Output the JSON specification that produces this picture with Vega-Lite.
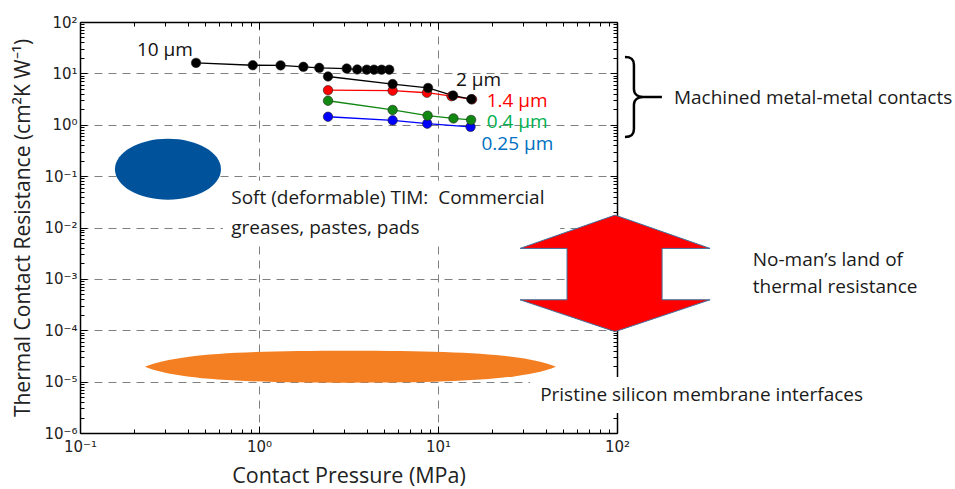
{
  "$schema": "https://vega.github.io/schema/vega-lite/v6.json",
  "width": 537,
  "height": 411,
  "autosize": "none",
  "padding": {"left": 80, "top": 22, "right": 338, "bottom": 56},
  "background": "white",
  "config": {"view": {"stroke": null}},
  "datasets": {
    "pts": [
      {"s": "0.25um", "p": 2.43, "r": 1.43},
      {"s": "0.25um", "p": 5.58, "r": 1.22},
      {"s": "0.25um", "p": 8.71, "r": 1.05},
      {"s": "0.25um", "p": 15.2, "r": 0.91},
      {"s": "0.4um", "p": 2.43, "r": 2.93},
      {"s": "0.4um", "p": 5.58, "r": 1.94},
      {"s": "0.4um", "p": 8.75, "r": 1.5},
      {"s": "0.4um", "p": 12.2, "r": 1.33},
      {"s": "0.4um", "p": 15.3, "r": 1.24},
      {"s": "1.4um", "p": 2.43, "r": 4.7},
      {"s": "1.4um", "p": 5.58, "r": 4.6},
      {"s": "1.4um", "p": 8.67, "r": 4.2},
      {"s": "1.4um", "p": 11.9, "r": 3.6},
      {"s": "1.4um", "p": 15.5, "r": 3.12},
      {"s": "2um", "p": 2.43, "r": 8.7},
      {"s": "2um", "p": 5.58, "r": 6.2},
      {"s": "2um", "p": 8.8, "r": 5.2},
      {"s": "2um", "p": 12.15, "r": 3.7},
      {"s": "2um", "p": 15.35, "r": 3.15},
      {"s": "10um", "p": 0.445, "r": 16.0},
      {"s": "10um", "p": 0.923, "r": 14.4},
      {"s": "10um", "p": 1.32, "r": 14.3},
      {"s": "10um", "p": 1.77, "r": 13.4},
      {"s": "10um", "p": 2.17, "r": 12.8},
      {"s": "10um", "p": 3.09, "r": 12.4},
      {"s": "10um", "p": 3.54, "r": 11.9},
      {"s": "10um", "p": 4.0, "r": 11.8},
      {"s": "10um", "p": 4.39, "r": 11.8},
      {"s": "10um", "p": 4.84, "r": 11.8},
      {"s": "10um", "p": 5.34, "r": 11.8}
    ],
    "boxes": [
      {"p": 0.629, "p2": 48.1, "r": 0.0813, "r2": 0.00503},
      {"p": 32.7, "p2": 2588, "r": 1.23e-5, "r2": 2.44e-6}
    ],
    "serieslabels": [
      {"k": "10um", "label": "10 µm", "p": 0.208, "r": 29.1},
      {"k": "2um", "label": "2 µm", "p": 12.6, "r": 7.34},
      {"k": "1.4um", "label": "1.4 µm", "p": 18.7, "r": 2.86},
      {"k": "0.4um", "label": "0.4 µm", "p": 18.7, "r": 1.11},
      {"k": "0.25um", "label": "0.25 µm", "p": 17.5, "r": 0.428}
    ],
    "notes": [
      {"k": "note", "label": "Soft (deformable) TIM:\u00a0 Commercial", "p": 0.70, "r": 0.0379},
      {"k": "note", "label": "greases, pastes, pads", "p": 0.70, "r": 0.00986},
      {"k": "note", "label": "Machined metal-metal contacts", "p": 208, "r": 3.37},
      {"k": "note", "label": "No-man’s land of", "p": 573, "r": 0.00234},
      {"k": "note", "label": "thermal resistance", "p": 573, "r": 0.000698},
      {"k": "note", "label": "Pristine silicon membrane interfaces", "p": 37.2, "r": 5.48e-6}
    ],
    "blue_region": [{"p": 0.31, "r": 0.136}],
    "orange_region": [{"p": 3.24, "r": 1.95e-5}],
    "arrow": [{"p": 97.5, "r": 0.00128}],
    "brace": [{"p": 139.6, "r": 3.47}]
  },
  "layer": [
    {
      "data": {"name": "boxes"},
      "mark": {"type": "rect", "fill": "white", "stroke": null},
      "encoding": {
        "x": {"field": "p", "type": "quantitative", "scale": {"type": "log", "domain": [0.1, 100]}, "axis": null},
        "x2": {"field": "p2"},
        "y": {"field": "r", "type": "quantitative", "scale": {"type": "log", "domain": [1e-6, 100]}, "axis": null},
        "y2": {"field": "r2"}
      }
    },
    {
      "data": {"name": "pts"},
      "mark": {"type": "line", "strokeWidth": 1.3},
      "encoding": {
        "x": {
          "field": "p", "type": "quantitative",
          "scale": {"type": "log", "domain": [0.1, 100]},
          "axis": {
            "orient": "bottom",
            "values": [0.1, 0.2, 0.3, 0.4, 0.5, 0.6, 0.7, 0.8, 0.9, 1, 2, 3, 4, 5, 6, 7, 8, 9, 10, 20, 30, 40, 50, 60, 70, 80, 90, 100],
            "labelExpr": "abs(log(datum.value)/LN10 - round(log(datum.value)/LN10)) < 0.001 ? '10' + ['⁻⁶','⁻⁵','⁻⁴','⁻³','⁻²','⁻¹','⁰','¹','²'][round(log(datum.value)/LN10)+6] : ''",
            "labelFont": "DejaVu Sans", "labelFontSize": 15, "labelColor": "#222",
            "labelFlush": false, "labelOverlap": false, "labelPadding": 13,
            "tickSize": {"condition": {"test": "abs(log(datum.value)/LN10 - round(log(datum.value)/LN10)) < 0.001", "value": -7}, "value": -4},
            "tickColor": "#000", "tickWidth": 1,
            "grid": true, "gridColor": "#808080", "gridDash": [8, 6], "gridWidth": 1,
            "gridOpacity": {"condition": {"test": "abs(log(datum.value)/LN10 - round(log(datum.value)/LN10)) < 0.001", "value": 1}, "value": 0},
            "domainColor": "#000", "domainWidth": 1.5,
            "title": "Contact Pressure (MPa)", "titleFont": "Open Sans", "titleFontSize": 21.5, "titleFontWeight": "normal", "titleColor": "#222", "titlePadding": 8
          }
        },
        "y": {
          "field": "r", "type": "quantitative",
          "scale": {"type": "log", "domain": [1e-6, 100]},
          "axis": {
            "orient": "left",
            "values": [1e-6, 2e-6, 3e-6, 4e-6, 5e-6, 6e-6, 7e-6, 8e-6, 9e-6, 1e-5, 2e-5, 3e-5, 4e-5, 5e-5, 6e-5, 7e-5, 8e-5, 9e-5, 1e-4, 2e-4, 3e-4, 4e-4, 5e-4, 6e-4, 7e-4, 8e-4, 9e-4, 1e-3, 2e-3, 3e-3, 4e-3, 5e-3, 6e-3, 7e-3, 8e-3, 9e-3, 0.01, 0.02, 0.03, 0.04, 0.05, 0.06, 0.07, 0.08, 0.09, 0.1, 0.2, 0.3, 0.4, 0.5, 0.6, 0.7, 0.8, 0.9, 1, 2, 3, 4, 5, 6, 7, 8, 9, 10, 20, 30, 40, 50, 60, 70, 80, 90, 100],
            "labelExpr": "abs(log(datum.value)/LN10 - round(log(datum.value)/LN10)) < 0.001 ? '10' + ['⁻⁶','⁻⁵','⁻⁴','⁻³','⁻²','⁻¹','⁰','¹','²'][round(log(datum.value)/LN10)+6] : ''",
            "labelFont": "DejaVu Sans", "labelFontSize": 15, "labelColor": "#222",
            "labelFlush": false, "labelOverlap": false, "labelPadding": 10,
            "tickSize": {"condition": {"test": "abs(log(datum.value)/LN10 - round(log(datum.value)/LN10)) < 0.001", "value": -7}, "value": -4},
            "tickColor": "#000", "tickWidth": 1,
            "grid": true, "gridColor": "#808080", "gridDash": [8, 6], "gridWidth": 1,
            "gridOpacity": {"condition": {"test": "abs(log(datum.value)/LN10 - round(log(datum.value)/LN10)) < 0.001", "value": 1}, "value": 0},
            "domainColor": "#000", "domainWidth": 1.5,
            "title": "Thermal Contact Resistance (cm²K W⁻¹)", "titleFont": "Open Sans", "titleFontSize": 21, "titleFontWeight": "normal", "titleColor": "#222", "titlePadding": 10
          }
        },
        "color": {
          "field": "s", "type": "nominal",
          "scale": {"domain": ["10um", "2um", "1.4um", "0.4um", "0.25um"], "range": ["#000000", "#000000", "#ff0000", "#118811", "#0000ff"]},
          "legend": null
        }
      }
    },
    {
      "data": {"name": "pts"},
      "mark": {"type": "point", "filled": true, "size": 90, "opacity": 1, "stroke": "#222", "strokeWidth": 0.6},
      "encoding": {
        "x": {
          "field": "p", "type": "quantitative",
          "axis": {
            "orient": "top",
            "values": [0.1, 0.2, 0.3, 0.4, 0.5, 0.6, 0.7, 0.8, 0.9, 1, 2, 3, 4, 5, 6, 7, 8, 9, 10, 20, 30, 40, 50, 60, 70, 80, 90, 100],
            "labels": false, "grid": false, "title": null,
            "tickSize": {"condition": {"test": "abs(log(datum.value)/LN10 - round(log(datum.value)/LN10)) < 0.001", "value": -7}, "value": -4},
            "tickColor": "#000", "tickWidth": 1, "domainColor": "#000", "domainWidth": 1.5
          }
        },
        "y": {
          "field": "r", "type": "quantitative",
          "axis": {
            "orient": "right",
            "values": [1e-6, 2e-6, 3e-6, 4e-6, 5e-6, 6e-6, 7e-6, 8e-6, 9e-6, 1e-5, 2e-5, 3e-5, 4e-5, 5e-5, 6e-5, 7e-5, 8e-5, 9e-5, 1e-4, 2e-4, 3e-4, 4e-4, 5e-4, 6e-4, 7e-4, 8e-4, 9e-4, 1e-3, 2e-3, 3e-3, 4e-3, 5e-3, 6e-3, 7e-3, 8e-3, 9e-3, 0.01, 0.02, 0.03, 0.04, 0.05, 0.06, 0.07, 0.08, 0.09, 0.1, 0.2, 0.3, 0.4, 0.5, 0.6, 0.7, 0.8, 0.9, 1, 2, 3, 4, 5, 6, 7, 8, 9, 10, 20, 30, 40, 50, 60, 70, 80, 90, 100],
            "labels": false, "grid": false, "title": null,
            "tickSize": {"condition": {"test": "abs(log(datum.value)/LN10 - round(log(datum.value)/LN10)) < 0.001", "value": -7}, "value": -4},
            "tickColor": "#000", "tickWidth": 1, "domainColor": "#000", "domainWidth": 1.5
          }
        },
        "color": {"field": "s", "type": "nominal", "legend": null}
      }
    },
    {
      "data": {"name": "blue_region"},
      "mark": {"type": "point", "filled": true, "opacity": 1, "fill": "#00529b", "strokeWidth": 0, "size": 11236,
        "shape": "M-1,0C-1,-0.318,-0.552,-0.575,0,-0.575C0.552,-0.575,1,-0.318,1,0C1,0.318,0.552,0.575,0,0.575C-0.552,0.575,-1,0.318,-1,0Z"},
      "encoding": {
        "x": {"field": "p", "type": "quantitative", "axis": null},
        "y": {"field": "r", "type": "quantitative", "axis": null}
      }
    },
    {
      "data": {"name": "orange_region"},
      "mark": {"type": "point", "filled": true, "opacity": 1, "fill": "#f47f22", "strokeWidth": 0, "size": 168921,
        "shape": "M-1,0C-0.85,-0.06,-0.55,-0.078,0,-0.078C0.55,-0.078,0.85,-0.06,1,0C0.85,0.06,0.55,0.078,0,0.078C-0.55,0.078,-0.85,0.06,-1,0Z"},
      "encoding": {
        "x": {"field": "p", "type": "quantitative", "axis": null},
        "y": {"field": "r", "type": "quantitative", "axis": null}
      }
    },
    {
      "data": {"name": "arrow"},
      "mark": {"type": "point", "filled": true, "opacity": 1, "fill": "#ff0000", "stroke": "#41719c", "strokeWidth": 1, "size": 36864,
        "shape": "M0,-0.607L0.99,-0.26L0.49,-0.26L0.49,0.275L0.99,0.275L0,0.607L-0.99,0.275L-0.5,0.275L-0.5,-0.26L-0.99,-0.26Z"},
      "encoding": {
        "x": {"field": "p", "type": "quantitative", "axis": null},
        "y": {"field": "r", "type": "quantitative", "axis": null}
      }
    },
    {
      "data": {"name": "brace"},
      "mark": {"type": "point", "filled": false, "opacity": 1, "fill": null, "stroke": "#000", "strokeWidth": 2.5, "size": 6400,
        "shape": "M-0.45,-1C-0.3,-1,-0.225,-0.95,-0.225,-0.8L-0.225,-0.2C-0.225,-0.05,-0.1,0,0,0L0.475,0M0,0C-0.1,0,-0.225,0.05,-0.225,0.2L-0.225,0.8C-0.225,0.95,-0.3,1,-0.45,1"},
      "encoding": {
        "x": {"field": "p", "type": "quantitative", "axis": null},
        "y": {"field": "r", "type": "quantitative", "axis": null}
      }
    },
    {
      "data": {"name": "serieslabels"},
      "mark": {"type": "text", "align": "left", "baseline": "middle", "font": "Open Sans", "fontSize": 19},
      "encoding": {
        "x": {"field": "p", "type": "quantitative", "axis": null},
        "y": {"field": "r", "type": "quantitative", "axis": null},
        "text": {"field": "label"},
        "fill": {
          "field": "k", "type": "nominal", "legend": null,
          "scale": {"domain": ["10um", "2um", "1.4um", "0.4um", "0.25um", "note"], "range": ["#111111", "#111111", "#ff0000", "#00b050", "#0070c0", "#1a1a1a"]}
        }
      }
    },
    {
      "data": {"name": "notes"},
      "mark": {"type": "text", "align": "left", "baseline": "middle", "font": "Open Sans", "fontSize": 19},
      "encoding": {
        "x": {"field": "p", "type": "quantitative", "axis": null},
        "y": {"field": "r", "type": "quantitative", "axis": null},
        "text": {"field": "label"},
        "fill": {"field": "k", "type": "nominal", "legend": null}
      }
    }
  ],
  "resolve": {"axis": {"x": "independent", "y": "independent"}}
}
